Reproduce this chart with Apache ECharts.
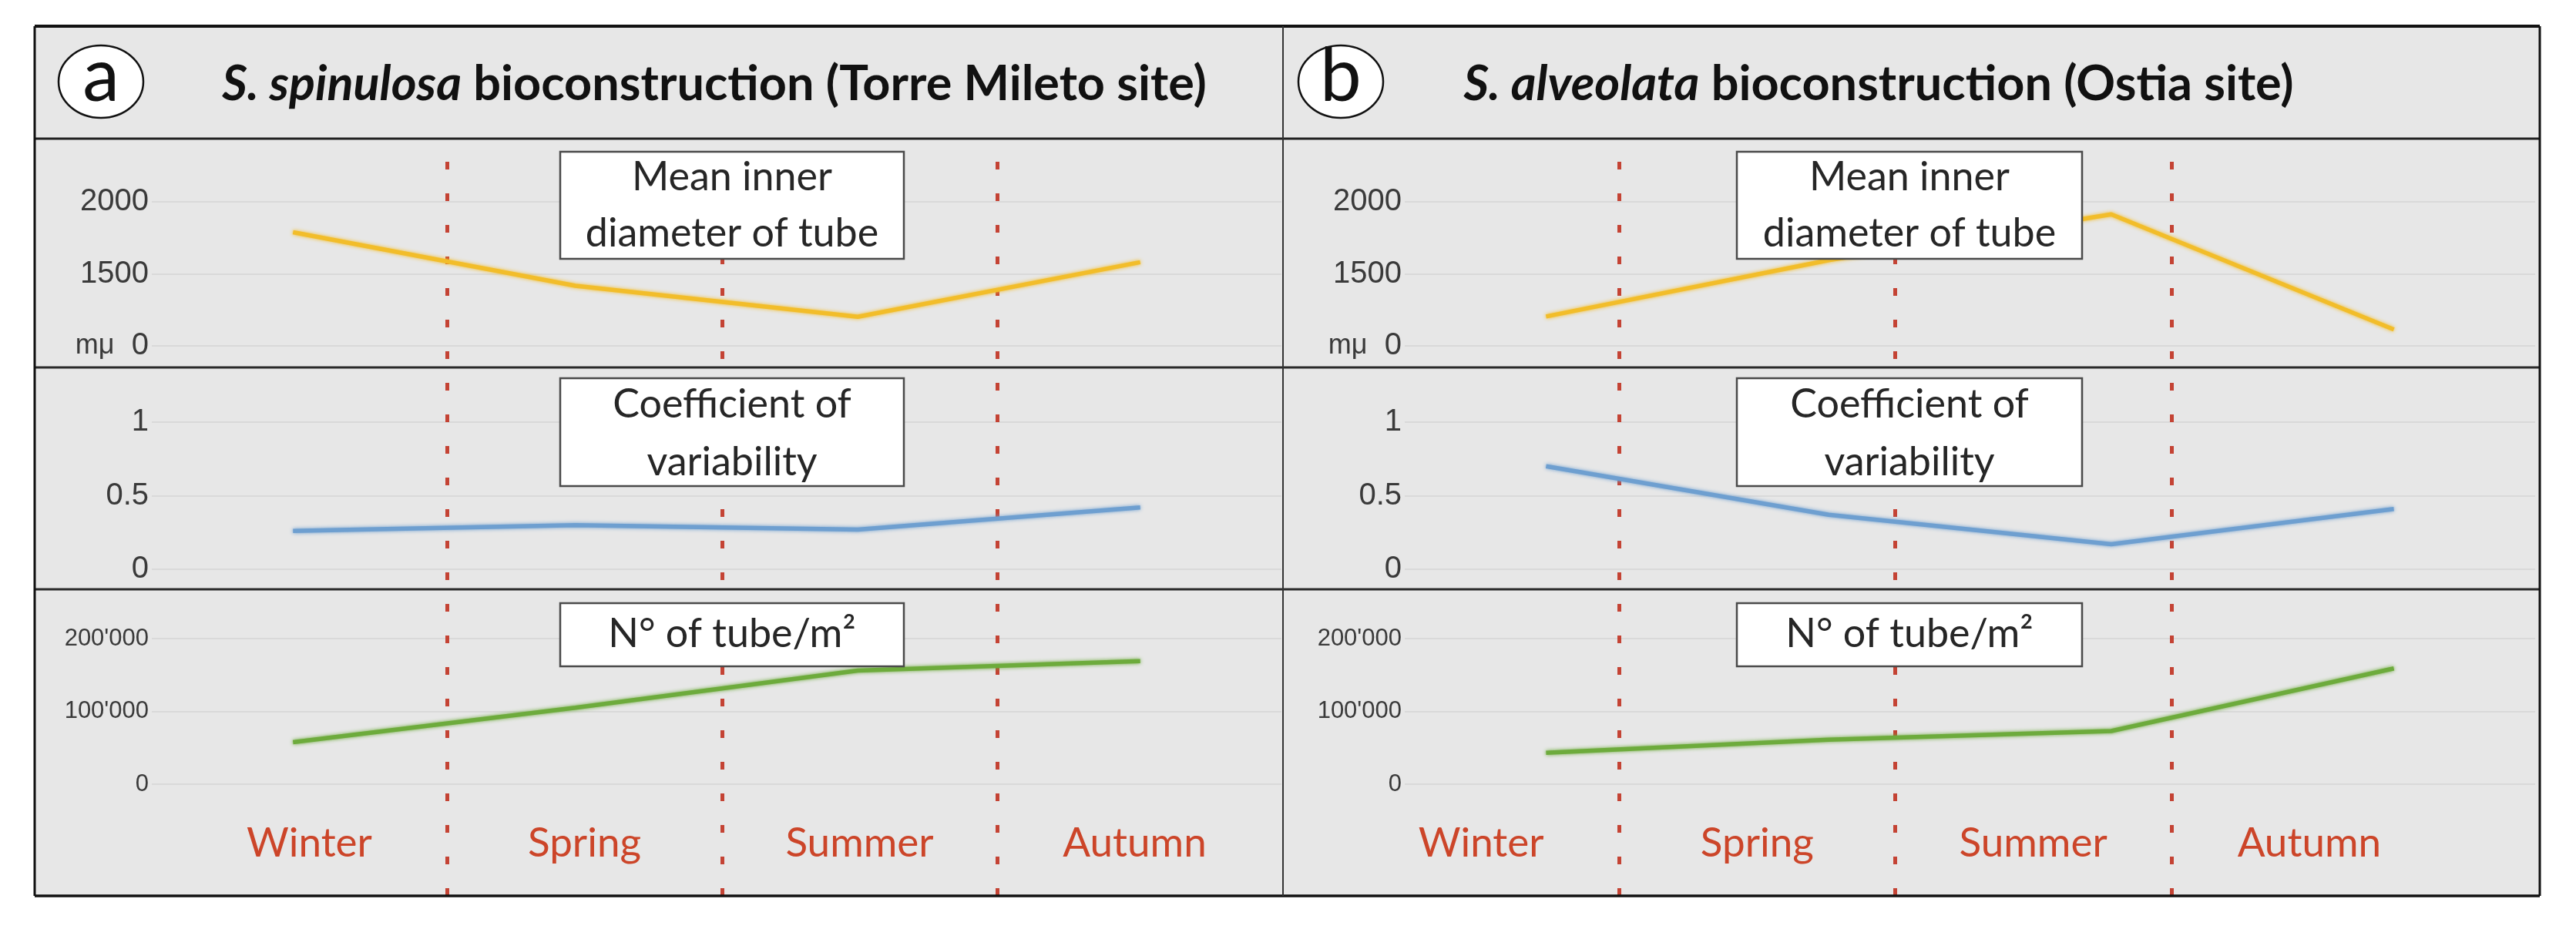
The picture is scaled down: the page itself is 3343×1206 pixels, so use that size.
<!DOCTYPE html>
<html><head><meta charset="utf-8">
<script src="https://cdn.jsdelivr.net/npm/echarts@6/dist/echarts.min.js"></script>
<style>html,body{margin:0;padding:0;background:#fff}#c{width:3343px;height:1206px}</style>
</head><body><div id="c"></div>
<script>
// ---------- data ----------
const seasons = ['Winter', 'Spring', 'Summer', 'Autumn'];
const seasonBoundaries = [1, 2, 3];

const diamA = [1789, 1417, 1202, 1581];
const cvA = [0.26, 0.30, 0.27, 0.42];
const tubesA = [57600, 105000, 156000, 169000];

const diamB = [1204, 1595, 1913, 1114];
const cvB = [0.70, 0.37, 0.17, 0.41];
const tubesB = [43000, 61000, 73000, 159000];

const diamTicks = [1000, 1500, 2000];
const diamTickLabels = ['{u|m\u03BC}  0', '1500', '2000'];
const cvTicks = [0, 0.5, 1];
const cvTickLabels = ['0', '0.5', '1'];
const tubeTicks = [0, 100000, 200000];
const tubeTickLabels = ['0', "100'000", "200'000"];

const panelLetters = ['a', 'b'];
const panelTitles = [
  '{i|S. spinulosa} bioconstruction (Torre Mileto site)',
  '{i|S. alveolata} bioconstruction (Ostia site)'
];
const boxLabels = [['Mean inner', 'diameter of tube'], ['Coefficient of', 'variability'], ['N\u00B0 of tube/m\u00B2']];

// ---------- layout ----------
const COLS = [
  { left: 197, width: 1466, ovLeft: 223, ovWidth: 1428, boxX: 727, boxW: 446, circleX: 131, titleX: 927 },
  { left: 1823, width: 1467, ovLeft: 1743, ovWidth: 1433, boxX: 2254, boxW: 448, circleX: 1740, titleX: 2438 }
];
const ROWS = [
  { top: 262, height: 187, min: 1000, max: 2000, interval: 500, ticks: diamTicks, labels: diamTickLabels, fs: 40, color: '#f2bd2a' },
  { top: 548, height: 191, min: 0, max: 1, interval: 0.5, ticks: cvTicks, labels: cvTickLabels, fs: 40, color: '#6e9fd0' },
  { top: 829, height: 189, min: 0, max: 200000, interval: 100000, ticks: tubeTicks, labels: tubeTickLabels, fs: 31, color: '#6dab3c' }
];
const BOXES = [
  { top: 197, h: 139, lines: [230, 303] },
  { top: 491, h: 140, lines: [525, 600] },
  { top: 783, h: 82, lines: [823] }
];
const seriesData = [[diamA, cvA, tubesA], [diamB, cvB, tubesB]];

const FRAME = { l: 45, r: 3296, t: 34, b: 1163, band: 180, rows: [477, 765], div: 1665 };
const textFont = 'Lato, "Open Sans", sans-serif';
const axisFont = '"Liberation Sans", Arial, sans-serif';
const seasonColor = '#cc4529';

const grid = [], xAxis = [], yAxis = [], series = [];
COLS.forEach((c, ci) => {
  ROWS.forEach((r, ri) => {
    const gi = ci * 3 + ri;
    grid.push({ left: c.left, width: c.width, top: r.top, height: r.height, containLabel: false });
    xAxis.push({ type: 'category', gridIndex: gi, data: seasons, boundaryGap: true, show: false });
    yAxis.push({
      type: 'value', gridIndex: gi, min: r.min, max: r.max, interval: r.interval,
      axisLine: { show: false }, axisTick: { show: false },
      splitLine: { lineStyle: { color: '#d9d9d9', width: 2 } },
      axisLabel: {
        margin: 4, color: '#3a3a3a', fontSize: r.fs, fontFamily: axisFont,
        formatter: v => { const k = r.ticks.indexOf(v); return k >= 0 ? r.labels[k] : ''; },
        rich: { u: { fontSize: 36, color: '#3a3a3a', fontFamily: axisFont } }
      }
    });
    series.push({
      type: 'line', xAxisIndex: gi, yAxisIndex: gi, data: seriesData[ci][ri],
      showSymbol: false, smooth: false, z: 5,
      lineStyle: { color: r.color, width: 5.5, shadowBlur: 5, shadowColor: r.color }
    });
  });
});
// overlay grids for seasons + dashed separators
COLS.forEach((c, ci) => {
  grid.push({ left: c.ovLeft, width: c.ovWidth, top: FRAME.band, height: FRAME.b - FRAME.band });
});
COLS.forEach((c, ci) => {
  xAxis.push({
    type: 'category', gridIndex: 6 + ci, data: seasons, boundaryGap: true,
    axisLine: { show: false }, axisTick: { show: false }, splitLine: { show: false },
    axisLabel: { inside: true, interval: 0, margin: 68, verticalAlign: 'middle', color: seasonColor, fontSize: 53, fontFamily: textFont }
  });
});
COLS.forEach((c, ci) => {
  xAxis.push({ type: 'value', gridIndex: 6 + ci, min: 0, max: 4, show: false });
  yAxis.push({ type: 'value', gridIndex: 6 + ci, min: 0, max: 1, show: false });
  series.push({
    type: 'line', xAxisIndex: 8 + ci, yAxisIndex: 6 + ci, data: [[0, 0]], showSymbol: false,
    lineStyle: { opacity: 0 }, silent: true, z: 1,
    markLine: {
      silent: true, symbol: ['none', 'none'], label: { show: false },
      lineStyle: { color: '#c23a2a', width: 5, type: [10, 31], opacity: 0.95 },
      data: seasonBoundaries.map(v => ({ xAxis: v }))
    }
  });
});

// ---------- graphics (frame, titles, label boxes) ----------
const graphic = [];
graphic.push({ type: 'rect', z: -10, shape: { x: FRAME.l, y: FRAME.t, width: FRAME.r - FRAME.l, height: FRAME.b - FRAME.t }, style: { fill: '#e7e7e7' } });
const hline = (y, w, col) => graphic.push({ type: 'line', z: 20, shape: { x1: FRAME.l, y1: y, x2: FRAME.r, y2: y }, style: { stroke: col, lineWidth: w } });
hline(FRAME.t, 4, '#111');
hline(FRAME.band, 3, '#222');
FRAME.rows.forEach(y => hline(y, 3, '#2a2a2a'));
hline(FRAME.b, 3.5, '#111');
[FRAME.l, FRAME.r].forEach(x => graphic.push({ type: 'line', z: 20, shape: { x1: x, y1: FRAME.t, x2: x, y2: FRAME.b }, style: { stroke: '#111', lineWidth: 3 } }));
graphic.push({ type: 'line', z: 20, shape: { x1: FRAME.div, y1: FRAME.t, x2: FRAME.div, y2: FRAME.b }, style: { stroke: '#333', lineWidth: 2 } });

COLS.forEach((c, ci) => {
  graphic.push({ type: 'ellipse', z: 20, shape: { cx: c.circleX, cy: 106, rx: 55, ry: 47 }, style: { fill: '#fff', stroke: '#111', lineWidth: 2.5 } });
  graphic.push({ type: 'text', z: 21, x: c.circleX, y: 100, style: { text: panelLetters[ci], fill: '#111', font: '96px ' + textFont, align: 'center', verticalAlign: 'middle' } });
  graphic.push({
    type: 'text', z: 21, x: c.titleX, y: 110,
    style: {
      text: panelTitles[ci], fill: '#111', font: 'bold 63px ' + textFont, align: 'center', verticalAlign: 'middle',
      rich: { i: { fontStyle: 'italic', fontWeight: 'bold', fontSize: 63, fontFamily: textFont, fill: '#111' } }
    }
  });
  BOXES.forEach((b, bi) => {
    graphic.push({ type: 'rect', z: 30, shape: { x: c.boxX, y: b.top, width: c.boxW, height: b.h }, style: { fill: '#fff', stroke: '#4a4a4a', lineWidth: 2.5 } });
    boxLabels[bi].forEach((t, ti) => {
      graphic.push({ type: 'text', z: 31, x: c.boxX + c.boxW / 2, y: b.lines[ti], style: { text: t, fill: '#262626', font: '52px ' + textFont, align: 'center', verticalAlign: 'middle' } });
    });
  });
});

const chart = echarts.init(document.getElementById('c'), null, { width: 3343, height: 1206 });
chart.setOption({ backgroundColor: '#ffffff', animation: false, grid, xAxis, yAxis, series, graphic });
</script></body></html>
